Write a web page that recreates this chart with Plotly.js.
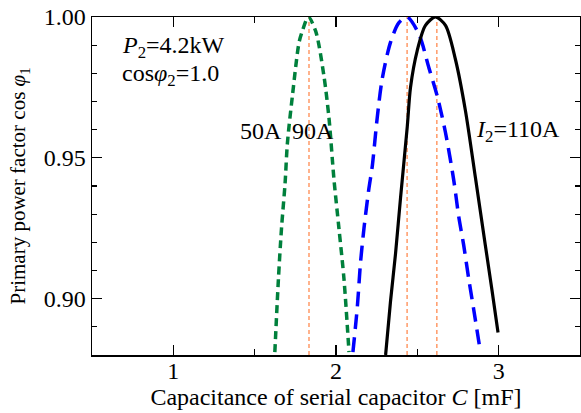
<!DOCTYPE html>
<html>
<head>
<meta charset="utf-8">
<script src="https://cdn.plot.ly/plotly-3.0.1.min.js"></script>
<style>
  html, body { margin: 0; padding: 0; background: #fff; }
  #chart { width: 581px; height: 413px; }
</style>
</head>
<body>
<div id="chart"></div>
<script>
// Primary power factor vs. serial capacitance, for three secondary currents
const c50 = [1.624, 1.646, 1.665, 1.687, 1.701, 1.732, 1.773, 1.793, 1.830, 1.875, 1.926, 1.957, 1.988, 2.018, 2.049, 2.080];
const pf50 = [0.881, 0.907, 0.925, 0.941, 0.955, 0.972, 0.991, 0.995, 1.000, 0.995, 0.979, 0.964, 0.942, 0.925, 0.907, 0.881];

const c90 = [2.104, 2.131, 2.151, 2.172, 2.202, 2.223, 2.253, 2.284, 2.335, 2.387, 2.437, 2.509, 2.571, 2.622, 2.673, 2.724, 2.755, 2.785, 2.816, 2.847, 2.888];
const pf90 = [0.881, 0.897, 0.913, 0.925, 0.939, 0.947, 0.964, 0.978, 0.991, 0.998, 1.000, 0.994, 0.982, 0.972, 0.959, 0.942, 0.929, 0.919, 0.907, 0.896, 0.881];

const c110 = [2.305, 2.335, 2.366, 2.397, 2.438, 2.458, 2.499, 2.550, 2.611, 2.673, 2.734, 2.795, 2.857, 2.918, 2.959, 2.996];
const pf110 = [0.880, 0.899, 0.916, 0.936, 0.961, 0.975, 0.988, 0.997, 1.000, 0.997, 0.985, 0.967, 0.943, 0.919, 0.903, 0.888];

// capacitance giving unity power factor for each current
const optimumC = [1.834, 2.437, 2.620];
const pfRange = [0.88, 1.00];

const serif = "Liberation Serif, Times New Roman, serif";

const traces = [];
optimumC.forEach(function (c) {
  traces.push({
    x: [c, c], y: pfRange, mode: "lines", showlegend: false, hoverinfo: "skip",
    line: { color: "#ff8a50", width: 1.3, dash: "4px,3px" }
  });
});
traces.push({
  x: c50, y: pf50, mode: "lines", showlegend: false,
  line: { color: "#00803c", width: 3.5, dash: "8px,5px", shape: "spline", smoothing: 0.8 }
});
traces.push({
  x: c90, y: pf90, mode: "lines", showlegend: false,
  line: { color: "#0000ff", width: 3.5, dash: "15px,8px", shape: "spline", smoothing: 0.8 }
});
traces.push({
  x: c110, y: pf110, mode: "lines", showlegend: false,
  line: { color: "#000000", width: 3.2, shape: "spline", smoothing: 0.8 }
});

const axisCommon = {
  showgrid: false, zeroline: false, showline: true, linecolor: "#000", linewidth: 1.5,
  mirror: "allticks", ticks: "inside", ticklen: 10, tickwidth: 1.2, tickcolor: "#000",
  tickfont: { family: serif, size: 24, color: "#000" }
};

const layout = {
  width: 581, height: 413,
  margin: { l: 92, r: 1, t: 17, b: 58 },
  paper_bgcolor: "#fff", plot_bgcolor: "#fff",
  font: { family: serif, color: "#000" },
  xaxis: Object.assign({}, axisCommon, {
    range: [0.5, 3.5], tickvals: [1, 2, 3], ticktext: ["1", "2", "3"],
    ticklabelstandoff: -6,
    minor: { dtick: 0.5, tick0: 0.5, ticks: "inside", ticklen: 6, tickwidth: 1.2, tickcolor: "#000", showgrid: false },
    title: { text: "Capacitance of serial capacitor <i>C</i> [mF]", font: { family: serif, size: 24 }, standoff: 0 }
  }),
  yaxis: Object.assign({}, axisCommon, {
    range: pfRange, tickvals: [0.90, 0.95, 1.00], ticktext: ["0.90", "0.95", "1.00"],
    minor: { dtick: 0.01, tick0: 0.88, ticks: "inside", ticklen: 5, tickwidth: 1.2, tickcolor: "#000", showgrid: false },
    title: { text: "Primary power factor cos <i>φ</i><sub>1</sub>", font: { family: serif, size: 21 }, standoff: 12 }
  }),
  annotations: [
    { x: 0.67, y: 0.9892, xanchor: "left", yanchor: "middle", showarrow: false,
      text: "<i>P</i><sub>2</sub>=4.2kW", font: { family: serif, size: 24 } },
    { x: 0.67, y: 0.9795, xanchor: "left", yanchor: "middle", showarrow: false,
      text: "cos<i>φ</i><sub>2</sub>=1.0", font: { family: serif, size: 24 } },
    { x: 1.54, y: 0.9596, xanchor: "center", yanchor: "middle", showarrow: false,
      text: "50A", font: { family: serif, size: 24 } },
    { x: 1.86, y: 0.9596, xanchor: "center", yanchor: "middle", showarrow: false,
      text: "90A", font: { family: serif, size: 24 } },
    { x: 3.12, y: 0.9596, xanchor: "center", yanchor: "middle", showarrow: false,
      text: "<i>I</i><sub>2</sub>=110A", font: { family: serif, size: 24 } }
  ]
};

Plotly.newPlot("chart", traces, layout, { displayModeBar: false, staticPlot: true });
</script>
</body>
</html>
